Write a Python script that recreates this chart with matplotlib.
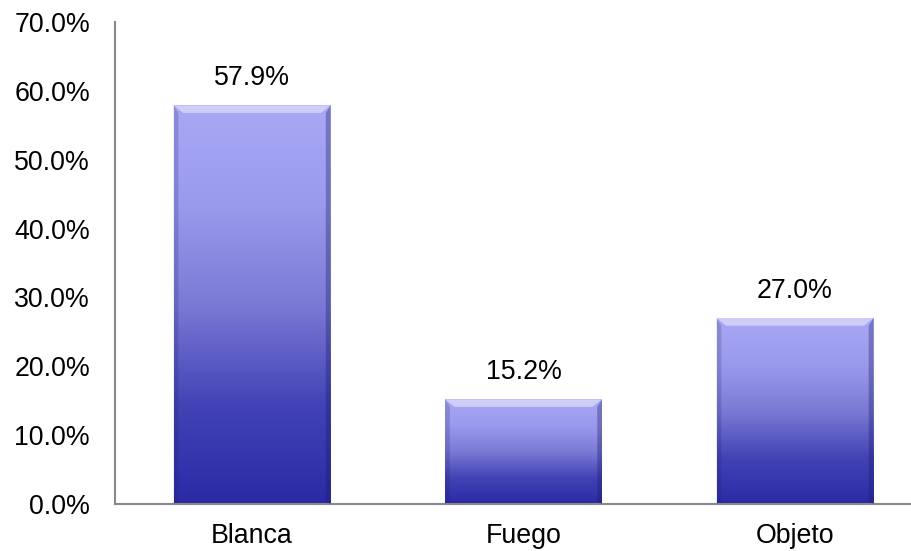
import numpy as np
import matplotlib.pyplot as plt
from matplotlib.colors import LinearSegmentedColormap
from matplotlib.patches import Polygon

categories = ['Blanca', 'Fuego', 'Objeto']
values = [57.9, 15.2, 27.0]

plt.rcParams['font.family'] = ['Liberation Sans', 'DejaVu Sans']

fig = plt.figure(figsize=(9.12, 5.51), dpi=100)
ax = fig.add_axes([0.1261, 0.0853, 0.8739, 0.8747])

cmap = LinearSegmentedColormap.from_list(
    'bar', ['#2a2aa6', '#4343b6', '#7a7ad6', '#9a9aec', '#a8a8f6'])
grad = np.linspace(0, 1, 256).reshape(-1, 1)

width = 0.578
x = np.arange(len(categories))
for xi, v in zip(x, values):
    x0, x1 = xi - width / 2, xi + width / 2
    ax.imshow(grad, extent=[x0, x1, 0, v], origin='lower', cmap=cmap,
              aspect='auto', zorder=2, interpolation='bicubic')
    # bevel: light top edge, darker sides
    bx = 0.035
    by = 1.1
    ax.add_patch(Polygon([[x0, v], [x1, v], [x1 - bx, v - by], [x0 + bx, v - by]],
                         closed=True, facecolor='white', alpha=0.45,
                         edgecolor='none', zorder=3))
    ax.add_patch(Polygon([[x1, v], [x1, 0], [x1 - bx * 0.5, 0.3], [x1 - bx * 0.5, v - by]],
                         closed=True, facecolor='#1c1c60', alpha=0.35,
                         edgecolor='none', zorder=3))
    ax.add_patch(Polygon([[x0, v], [x0, 0], [x0 + bx * 0.5, 0.3], [x0 + bx * 0.5, v - by]],
                         closed=True, facecolor='#1c1c60', alpha=0.2,
                         edgecolor='none', zorder=3))
    ax.annotate(f'{v:.1f}%', (xi, v), xytext=(0, 10), textcoords='offset points',
                ha='center', va='bottom', fontsize=19.3)

ax.set_xlim(-0.505, 2.431)
ax.set_ylim(0, 70)
ax.set_yticks(np.arange(0, 71, 10))
ax.set_yticklabels([f'{t:.1f}%' for t in np.arange(0, 71, 10)])
ax.set_xticks(x)
ax.set_xticklabels(categories)
ax.tick_params(axis='y', length=0, pad=18, labelsize=19.3)
ax.tick_params(axis='x', length=0, pad=14, labelsize=19.3)

for s in ['top', 'right']:
    ax.spines[s].set_visible(False)
for s in ['left', 'bottom']:
    ax.spines[s].set_color('#888888')
    ax.spines[s].set_linewidth(1.5)

fig.savefig('out.png', dpi=100)
